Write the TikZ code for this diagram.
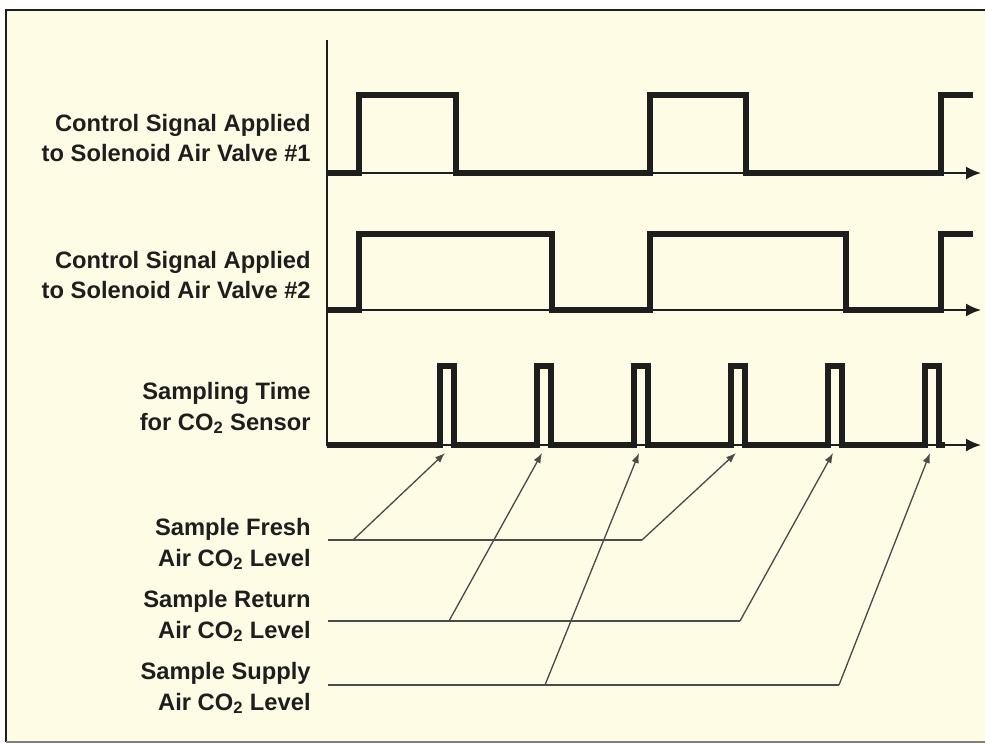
\documentclass[tikz,border=0pt]{standalone}
\usepackage{fontspec}
\setmainfont{Liberation Sans}
\usepackage{tikz}
\usetikzlibrary{arrows.meta,positioning}
\definecolor{paper}{RGB}{254,252,228}
\definecolor{ink}{RGB}{30,30,30}
\tikzset{
  % signals thick, axes thin, leaders thinner and grey
  sig/.style={line width=3.2pt,line join=miter,draw=ink},
  axis/.style={line width=1.1pt,draw=ink,-{Latex[length=3mm,width=2.6mm]}},
  lead/.style={line width=0.75pt,draw=ink!80,-{Latex[length=2mm,width=1.5mm]}},
  leadline/.style={line width=0.75pt,draw=ink!80},
  lbl/.style={anchor=east,align=right,text=ink,inner sep=0pt,
    font=\fontsize{13.5}{17.5}\selectfont\bfseries}
}
\newcommand{\cotwo}{CO\textsubscript{2}}

\begin{document}
\begin{tikzpicture}[x=0.02cm,y=-0.02cm]
 \useasboundingbox (0,0) rectangle (985,744);
 \fill[white] (0,0) rectangle (985,744);
 \fill[paper] (6,10) rectangle (985,742);
 \draw[line width=1.6pt,ink] (985,10) -- (6,10) -- (6,742);
 \draw[line width=1pt,gray] (6,742) -- (985,742);

 % axes
 \draw[line width=1.1pt,ink] (327,40) -- (327,446);
 \draw[axis] (327,173) -- (981,173);
 \draw[axis] (327,310) -- (981,310);
 \draw[axis] (327,445) -- (981,445);

 % valve #1
 \draw[sig] (327,173) -- (359,173) -- (359,95) -- (456,95) -- (456,173)
   -- (650,173) -- (650,95) -- (746,95) -- (746,173)
   -- (941,173) -- (941,95) -- (973,95);
 % valve #2
 \draw[sig] (327,310) -- (359,310) -- (359,234) -- (552,234) -- (552,310)
   -- (650,310) -- (650,234) -- (846,234) -- (846,310)
   -- (941,310) -- (941,234) -- (973,234);
 % sampling pulses
 \draw[sig] (327,445) foreach \c in {447,544,641,738,835,932}
   { -- ({\c-7},445) -- ({\c-7},366) -- ({\c+7},366) -- ({\c+7},445) } -- (945,445);
 \foreach \c [count=\i] in {447,544,641,738,835,932}
   \coordinate (p\i) at ({\c-2},453);

 % labels
 \node[lbl] (v1) at (311,138) {Control Signal Applied\\to Solenoid Air Valve \#1};
 \node[lbl] (v2) at (311,275) {Control Signal Applied\\to Solenoid Air Valve \#2};
 \node[lbl] (st) at (311,408) {Sampling Time\\for \cotwo{} Sensor};
 \node[lbl] (fr) at (311,544) {Sample Fresh\\Air \cotwo{} Level};
 \node[lbl] (re) at (311,616) {Sample Return\\Air \cotwo{} Level};
 \node[lbl] (su) at (311,688) {Sample Supply\\Air \cotwo{} Level};

 % leaders
 \coordinate (frA) at (328,540); \coordinate (frK) at (353,540); \coordinate (frB) at (642,540);
 \coordinate (reA) at (328,621); \coordinate (reK) at (449,621); \coordinate (reB) at (740,621);
 \coordinate (suA) at (328,685); \coordinate (suK) at (545,685); \coordinate (suB) at (839,685);
 \draw[leadline] (frA) -- (frB);
 \draw[leadline] (reA) -- (reB);
 \draw[leadline] (suA) -- (suB);
 \draw[lead] (frK) -- (p1);
 \draw[lead] (frB) -- (p4);
 \draw[lead] (reK) -- (p2);
 \draw[lead] (reB) -- (p5);
 \draw[lead] (suK) -- (p3);
 \draw[lead] (suB) -- (p6);
\end{tikzpicture}
\end{document}
